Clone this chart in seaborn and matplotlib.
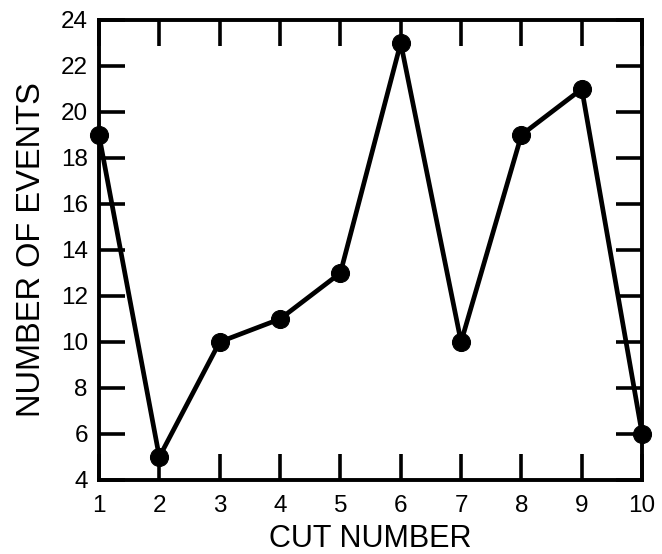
import matplotlib
matplotlib.use("Agg")
import matplotlib.pyplot as plt
import seaborn as sns
import pandas as pd

# Dados
cortes = [1, 2, 3, 4, 5, 6, 7, 8, 9, 10]
eventos = [19, 5, 10, 11, 13, 23, 10, 19, 21, 6]
yticks = [4, 6, 8, 10, 12, 14, 16, 18, 20, 22, 24]

df = pd.DataFrame({"corte": cortes, "eventos": eventos})

sns.set_style("ticks")
plt.rcParams["font.family"] = ["Liberation Sans", "DejaVu Sans"]

fig = plt.figure(figsize=(6.62, 5.54), dpi=100)
ax = fig.add_axes([0.1495, 0.1336, 0.8205, 0.8304])

sns.lineplot(data=df, x="corte", y="eventos", ax=ax, color="black",
             linewidth=3.4, marker="o", markersize=13, markeredgecolor="black",
             clip_on=False, zorder=5)

ax.set_xlim(1, 10)
ax.set_ylim(4, 24)
ax.set_xticks(cortes)
ax.set_yticks(yticks)

for s in ax.spines.values():
    s.set_linewidth(2.8)
    s.set_color("black")
    s.set_visible(True)

ax.tick_params(direction="in", length=19, width=2.6, top=True, right=True,
               labelsize=17.5, color="black", labelcolor="black")
ax.tick_params(axis="x", pad=11)
ax.tick_params(axis="y", pad=8)

ax.set_xlabel("CUT NUMBER", fontsize=22, labelpad=5, color="black")
ax.set_ylabel("NUMBER OF EVENTS", fontsize=23.5, labelpad=10, color="black")

fig.savefig("out.png", dpi=100)
